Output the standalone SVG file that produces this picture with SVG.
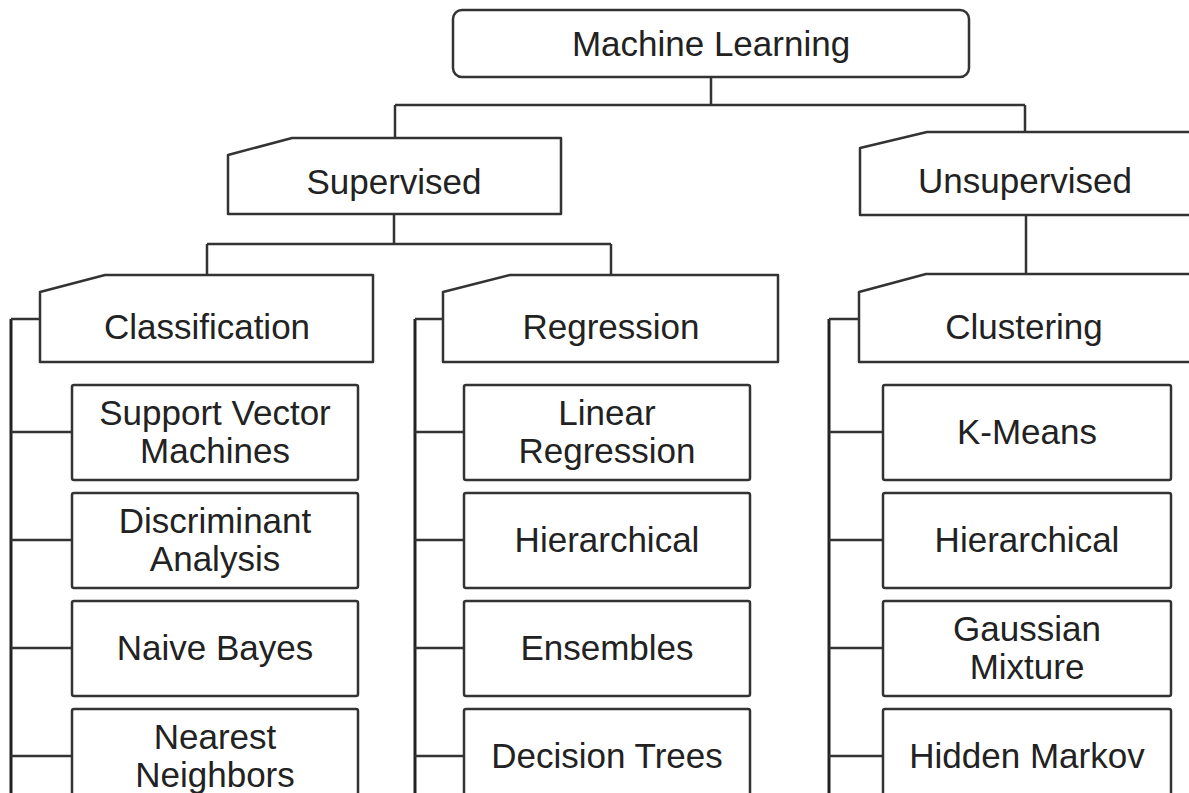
<svg xmlns="http://www.w3.org/2000/svg" width="1189" height="793" viewBox="0 0 1189 793">
<style>
.box{fill:#fff;stroke:#333;stroke-width:2.5;stroke-linejoin:round}
.t{font-family:"Liberation Sans",Arial,sans-serif;font-size:35px;fill:#222;text-anchor:middle}
.c{fill:none;stroke:#333;stroke-width:2.5}
.v{fill:none;stroke:#222;stroke-width:3}
</style>
<rect width="1189" height="793" fill="#fff"/>
<g id="connectors">
<path class="c" d="M711 77V105M395 105H1025M395 105V138M1025 105V132"/>
<path class="c" d="M394 214V244M207 244H611M207 244V275M611 244V275"/>
<path class="c" d="M1026 215V274"/>
<path class="v" d="M11 319V793M415 319V793M829 319V793"/>
<path class="c" d="M11 319H40M415 319H443M829 319H859"/>
<path class="c" d="M11 432H72M11 540H72M11 648H72M11 756H72"/>
<path class="c" d="M415 432H464M415 540H464M415 648H464M415 756H464"/>
<path class="c" d="M829 432H883M829 540H883M829 648H883M829 756H883"/>
</g>
<g id="ml"><rect class="box" x="453" y="10" width="516" height="67" rx="9"/><text class="t" x="711" y="56">Machine Learning</text></g>
<g id="supervised"><path class="box" d="M228 155L292 138H561V214H228Z"/><text class="t" x="394" y="194">Supervised</text></g>
<g id="unsupervised"><path class="box" d="M860 148L927 132H1193V215H860Z"/><text class="t" x="1025" y="193">Unsupervised</text></g>
<g id="classification"><path class="box" d="M40 292L105 275H373V362H40Z"/><text class="t" x="207" y="339">Classification</text></g>
<g id="regression"><path class="box" d="M443 292L510 275H778V362H443Z"/><text class="t" x="611" y="339">Regression</text></g>
<g id="clustering"><path class="box" d="M859 292L926 274H1193V362H859Z"/><text class="t" x="1024" y="339">Clustering</text></g>
<g id="svm"><rect class="box" x="72" y="385" width="286" height="95" rx="2"/><text class="t" x="215" y="425">Support Vector</text><text class="t" x="215" y="463">Machines</text></g>
<g id="discriminant"><rect class="box" x="72" y="493" width="286" height="95" rx="2"/><text class="t" x="215" y="533">Discriminant</text><text class="t" x="215" y="571">Analysis</text></g>
<g id="naivebayes"><rect class="box" x="72" y="601" width="286" height="95" rx="2"/><text class="t" x="215" y="660">Naive Bayes</text></g>
<g id="nearest"><rect class="box" x="72" y="709" width="286" height="95" rx="2"/><text class="t" x="215" y="749">Nearest</text><text class="t" x="215" y="787">Neighbors</text></g>
<g id="linear"><rect class="box" x="464" y="385" width="286" height="95" rx="2"/><text class="t" x="607" y="425">Linear</text><text class="t" x="607" y="463">Regression</text></g>
<g id="hier1"><rect class="box" x="464" y="493" width="286" height="95" rx="2"/><text class="t" x="607" y="552">Hierarchical</text></g>
<g id="ensembles"><rect class="box" x="464" y="601" width="286" height="95" rx="2"/><text class="t" x="607" y="660">Ensembles</text></g>
<g id="dtrees"><rect class="box" x="464" y="709" width="286" height="95" rx="2"/><text class="t" x="607" y="768">Decision Trees</text></g>
<g id="kmeans"><rect class="box" x="883" y="385" width="288" height="95" rx="2"/><text class="t" x="1027" y="444">K-Means</text></g>
<g id="hier2"><rect class="box" x="883" y="493" width="288" height="95" rx="2"/><text class="t" x="1027" y="552">Hierarchical</text></g>
<g id="gaussian"><rect class="box" x="883" y="601" width="288" height="95" rx="2"/><text class="t" x="1027" y="641">Gaussian</text><text class="t" x="1027" y="679">Mixture</text></g>
<g id="hmm"><rect class="box" x="883" y="709" width="288" height="95" rx="2"/><text class="t" x="1027" y="768">Hidden Markov</text></g>
</svg>
